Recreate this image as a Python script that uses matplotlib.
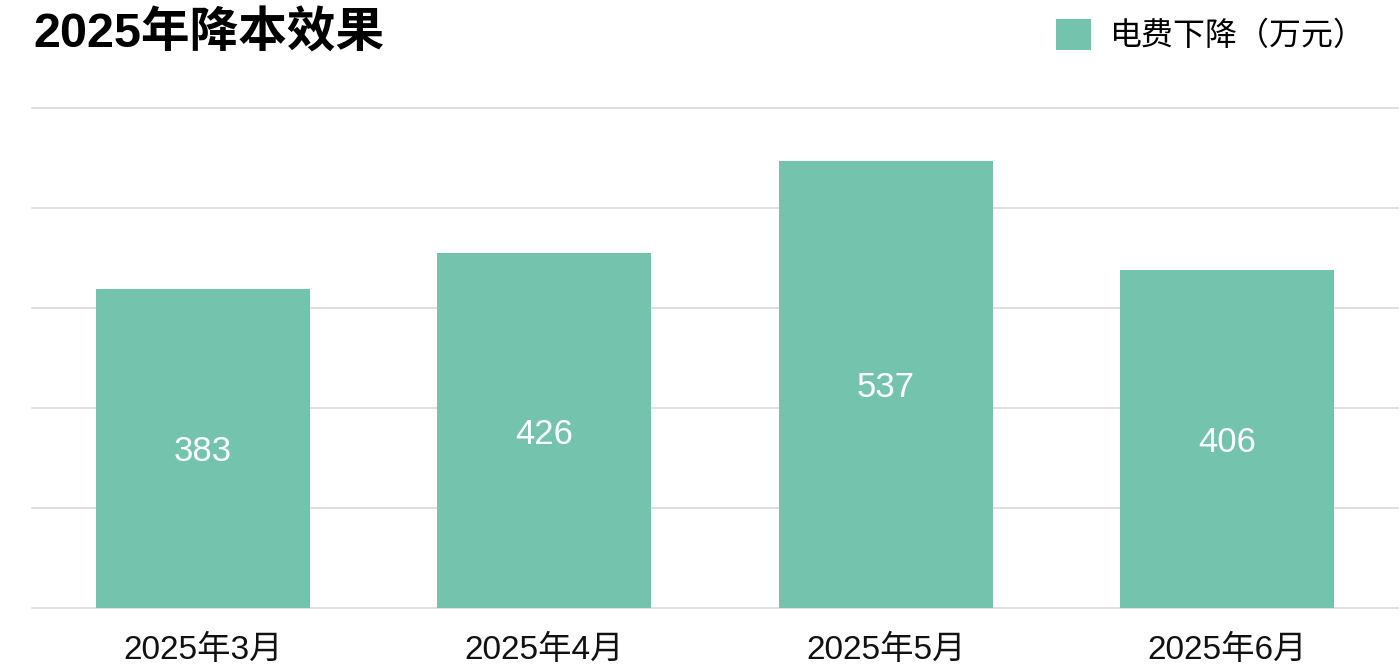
import matplotlib
matplotlib.use('Agg')
import matplotlib.pyplot as plt
from matplotlib.patches import Patch

plt.rcParams['font.family'] = ['Liberation Sans', 'Noto Sans CJK SC', 'DejaVu Sans']

# Data
months = ['2025年3月', '2025年4月', '2025年5月', '2025年6月']
savings = [383, 426, 537, 406]
series_name = '电费下降（万元）'
title = '2025年降本效果'

bar_color = '#74C3AC'
grid_color = '#D9D9D9'

fig = plt.figure(figsize=(14, 6.72), dpi=100)
ax = fig.add_axes([32 / 1400, 64 / 672, 1366 / 1400, 500 / 672])

x = range(len(months))
bars = ax.bar(x, savings, width=0.627, color=bar_color, zorder=2)

for xi, v in zip(x, savings):
    ax.text(xi, v / 2, str(v), ha='center', va='center_baseline',
            fontsize=25, color='white', zorder=3)

ax.set_xlim(-0.5, len(months) - 0.5)
ax.set_ylim(0, 600)
ax.set_yticks(range(0, 601, 120))
ax.yaxis.grid(True, color=grid_color, linewidth=1.2, zorder=0)
for gl in ax.get_ygridlines():
    gl.set_clip_on(False)
ax.tick_params(axis='y', left=False, labelleft=False)
ax.set_xticks(list(x))
ax.set_xticklabels(months, fontsize=24, color='#111111')
ax.tick_params(axis='x', length=0, pad=19)
for s in ax.spines.values():
    s.set_visible(False)

fig.text(33 / 1400, 1 - 35 / 672, title, ha='left', va='center',
         fontsize=35, fontweight='bold', color='black')

fig.legend(handles=[Patch(facecolor=bar_color, edgecolor='none', label=series_name)],
           loc='upper right', bbox_to_anchor=(1382 / 1400, 1 - 3 / 672),
           frameon=False, fontsize=23, borderpad=0, handlelength=1.08,
           handleheight=1.12, handletextpad=0.6)

fig.savefig('out.png', dpi=100)
